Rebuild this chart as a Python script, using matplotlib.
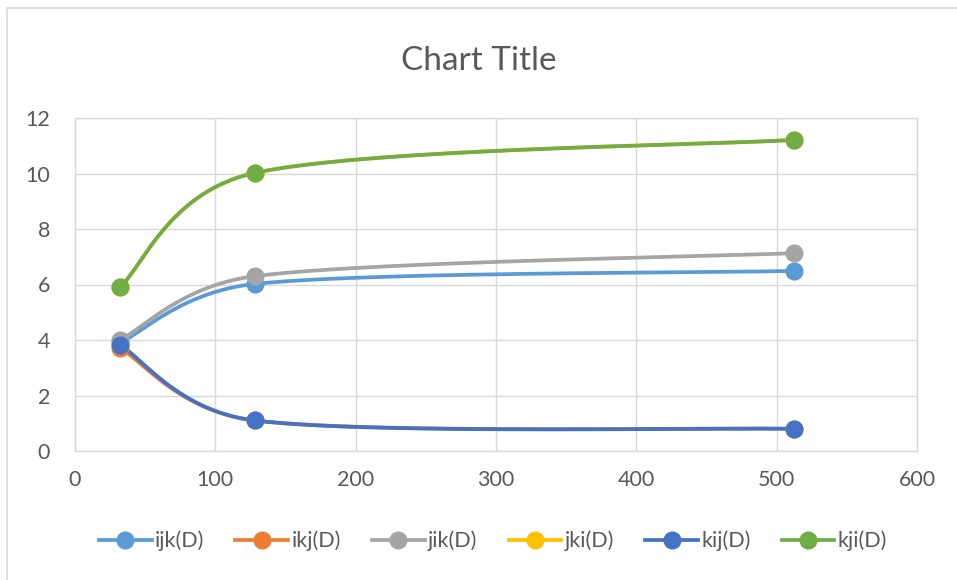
import numpy as np
import matplotlib
matplotlib.use("Agg")
import matplotlib.pyplot as plt
from matplotlib.lines import Line2D

plt.rcParams['font.family'] = ['Lato', 'DejaVu Sans']

# Matrix size and timing per loop order
sizes = [32, 128, 512]
series_names = ["ijk(D)", "ikj(D)", "jik(D)", "jki(D)", "kij(D)", "kji(D)"]
ijk = [3.90, 6.02, 6.49]
ikj = [3.71, 1.10, 0.80]
jik = [4.00, 6.30, 7.13]
jki = [5.91, 10.02, 11.21]
kij = [3.82, 1.10, 0.80]
kji = [5.91, 10.02, 11.21]
series_values = [ijk, ikj, jik, jki, kij, kji]
colors = ["#5B9BD5", "#ED7D31", "#A5A5A5", "#FFC000", "#4472C4", "#70AD47"]

x_ticks = [0, 100, 200, 300, 400, 500, 600]
y_ticks = [0, 2, 4, 6, 8, 10, 12]

text_color = "#595959"
grid_color = "#D9D9D9"


def smooth_curve(ax, xs, ys, n=80):
    """Bezier smoothing through the points, computed in display space.

    Control offsets use tension 1/6 and are limited to half the
    length of the segment they belong to.
    """
    pts = ax.transData.transform(np.column_stack([xs, ys]).astype(float))
    out = []
    m = len(pts)
    for i in range(m - 1):
        p0 = pts[i - 1] if i > 0 else pts[i]
        p1 = pts[i]
        p2 = pts[i + 1]
        p3 = pts[i + 2] if i + 2 < m else pts[i + 1]
        half = np.hypot(*(p2 - p1)) / 2.0
        d1 = (p2 - p0) / 6.0
        d2 = (p3 - p1) / 6.0
        l1, l2 = np.hypot(*d1), np.hypot(*d2)
        if l1 > half:
            d1 *= half / l1
        if l2 > half:
            d2 *= half / l2
        c1 = p1 + d1
        c2 = p2 - d2
        t = np.linspace(0, 1, n)[:, None]
        seg = ((1 - t) ** 3) * p1 + 3 * ((1 - t) ** 2) * t * c1 \
            + 3 * (1 - t) * t ** 2 * c2 + t ** 3 * p2
        out.append(seg if i == 0 else seg[1:])
    seg = ax.transData.inverted().transform(np.vstack(out))
    return seg[:, 0], seg[:, 1]


W, H = 957, 580
fig = plt.figure(figsize=(W / 100, H / 100), dpi=100)
ax = fig.add_axes([75 / W, 1 - 451 / H, (917 - 75) / W, (451 - 118) / H])
ax.set_xlim(0, 600)
ax.set_ylim(0, 12)

lw = 2.7
ms = 12
for name, vals, col in zip(series_names, series_values, colors):
    sx, sy = smooth_curve(ax, sizes, vals)
    ax.plot(sx, sy, color=col, lw=lw, solid_capstyle='round', zorder=3)
    ax.plot(sizes, vals, linestyle='none', marker='o', ms=ms,
            color=col, markeredgecolor=col, zorder=4)

ax.set_xticks(x_ticks)
ax.set_yticks(y_ticks)
ax.grid(True, color=grid_color, lw=1.0, zorder=0)
for sp in ax.spines.values():
    sp.set_color(grid_color)
    sp.set_linewidth(1.0)
ax.tick_params(axis='both', length=0, labelsize=15.5, colors=text_color)
ax.tick_params(axis='y', pad=18)
ax.tick_params(axis='x', pad=14)

fig.text(0.5, 1 - 61 / H, "Chart Title", ha='center', va='center',
         fontsize=24, color=text_color)

handles = [Line2D([0], [0], color=c, lw=lw, marker='o', ms=ms,
                  markeredgecolor=c) for c in colors]
leg = fig.legend(handles, series_names, loc='center', ncol=6,
                 bbox_to_anchor=(493 / W, 1 - 541 / H), frameon=False,
                 fontsize=15.5, handlelength=2.45, handletextpad=0.15,
                 columnspacing=1.45, labelcolor=text_color)

# chart area border
fig.add_artist(Line2D([7 / W, 7 / W], [0, 1 - 8 / H], color=grid_color,
                      lw=1.2, transform=fig.transFigure))
fig.add_artist(Line2D([7 / W, 1], [1 - 8 / H, 1 - 8 / H], color=grid_color,
                      lw=1.2, transform=fig.transFigure))

fig.savefig("out.png", dpi=100)
